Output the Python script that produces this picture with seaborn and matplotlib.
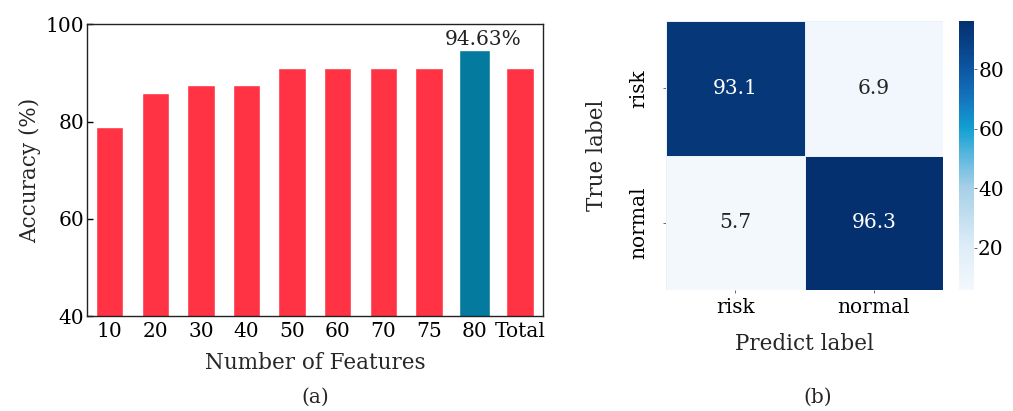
import numpy as np
import pandas as pd
import matplotlib
matplotlib.use('Agg')
import matplotlib.pyplot as plt
from matplotlib.colors import LinearSegmentedColormap
import seaborn as sns

# data
features = ['10', '20', '30', '40', '50', '60', '70', '75', '80', 'Total']
accuracy = [78.8, 85.8, 87.5, 87.5, 91.1, 91.1, 91.1, 91.1, 94.63, 91.1]
best = '80'

classes = ['risk', 'normal']
cm_risk = [93.1, 6.9]
cm_normal = [5.7, 96.3]
cbar_ticks = [20, 40, 60, 80]

sns.set_theme(style='ticks')
plt.rcParams['font.family'] = ['DejaVu Serif']
TICK = 14.5
LAB = 15.5

fig = plt.figure(figsize=(10.13, 4.11), dpi=100)

# ---- (a) bar chart
ax1 = fig.add_axes([0.0859, 0.231, 0.450, 0.710])
df = pd.DataFrame({'feat': features, 'acc': accuracy})
pal = {f: ('#037A9E' if f == best else '#FF3344') for f in features}
sns.barplot(data=df, x='feat', y='acc', hue='feat', palette=pal, legend=False,
            width=0.6, saturation=1, ax=ax1)
# highlighted bar is drawn a bit wider in the original
for p, f in zip(ax1.patches, features):
    if f == best:
        c = p.get_x() + p.get_width() / 2
        p.set_width(0.7)
        p.set_x(c - 0.35)
ax1.set_ylim(40, 100)
ax1.set_yticks([40, 60, 80, 100])
ax1.set_xlim(-0.5, 9.5)
ax1.tick_params(direction='in', length=4, width=1, colors='black', labelsize=TICK, pad=4)
ax1.tick_params(axis='y', pad=2)
for s in ax1.spines.values():
    s.set_color('#222222')
    s.set_linewidth(1.0)
ax1.set_xlabel('Number of Features', fontsize=LAB, labelpad=8)
ax1.set_ylabel('Accuracy (%)', fontsize=LAB, labelpad=3)
i = features.index(best)
ax1.text(i + 0.2, accuracy[i] + 0.3, '%.2f%%' % accuracy[i], ha='center', va='bottom',
         fontsize=TICK, color='#222222')

# ---- (b) confusion matrix
cmap = LinearSegmentedColormap.from_list('cb', [
    (0.0, '#f3f8fd'), (0.16, '#deedf8'), (0.38, '#a6d0e7'), (0.5, '#5ab7de'),
    (0.6, '#13a0d2'), (0.72, '#1472bb'), (0.85, '#0b4f9a'), (1.0, '#04306f')])
ax2 = fig.add_axes([0.6575, 0.2944, 0.2734, 0.6545])
cax = fig.add_axes([0.9467, 0.2944, 0.0148, 0.6545])
cm = pd.DataFrame([cm_risk, cm_normal], index=classes, columns=classes)
sns.heatmap(cm, annot=True, fmt='.1f', cmap=cmap, linewidths=0.6, linecolor='#e8f0f8',
            annot_kws={'fontsize': TICK}, ax=ax2, cbar_ax=cax,
            cbar_kws={'ticks': cbar_ticks})
ax2.set_xlabel('Predict label', fontsize=LAB, labelpad=11)
ax2.set_ylabel('True label', fontsize=LAB, labelpad=15)
ax2.tick_params(length=2, width=0.6, colors='#555555', labelcolor='black', labelsize=TICK)
ax2.tick_params(axis='y', pad=11)
ax2.tick_params(axis='x', pad=4)
ax2.set_yticklabels(classes, rotation=90, va='center')
cax.tick_params(length=2, width=0.6, colors='#555555', labelcolor='black', labelsize=TICK, pad=1)
for s in cax.spines.values():
    s.set_visible(False)

fig.text(0.311, 0.034, '(a)', ha='center', va='center', fontsize=TICK)
fig.text(0.807, 0.034, '(b)', ha='center', va='center', fontsize=TICK)

fig.savefig('out.png', dpi=100)
